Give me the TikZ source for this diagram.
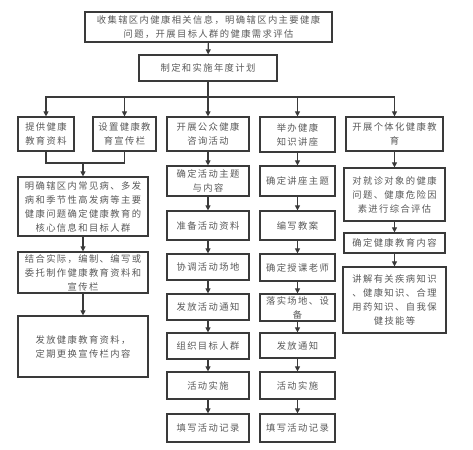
\documentclass[tikz,border=0pt]{standalone}
\usepackage{fontspec}
\setmainfont{Noto Sans CJK SC}[LetterSpace=15]
\usetikzlibrary{arrows.meta}
\definecolor{linec}{HTML}{3A3A3A}
\definecolor{textc}{HTML}{5A5A5A}
\begin{document}
\begin{tikzpicture}[x=1pt,y=-1pt,
  box/.style={draw=linec, line width=1.2pt, inner sep=0pt, align=center,
    text=textc, font={\fontsize{9.3}{14}\selectfont}},
  link/.style={draw=linec, line width=1.1pt},
  arr/.style={link, -{Triangle[width=5pt,length=5pt]}}]
\useasboundingbox (0,0) rectangle (473,449);
\fill[white] (0,0) rectangle (473,449);
% top
\node[box, minimum width=247, minimum height=30] (top) at (208.5,27) {收集辖区内健康相关信息，明确辖区内主要健康\\问题，开展目标人群的健康需求评估};
\node[box, minimum width=138, minimum height=26] (plan) at (208,68) {制定和实施年度计划};
% row 1
\node[box, minimum width=56, minimum height=34] (A) at (46,134) {提供健康\\教育资料};
\node[box, minimum width=63, minimum height=34] (B) at (124.5,134) {设置健康教\\育宣传栏};
\node[box, minimum width=82, minimum height=34] (C) at (208,134) {开展公众健康\\咨询活动};
\node[box, minimum width=75, minimum height=35] (D) at (297.5,134.5) {举办健康\\知识讲座};
\node[box, minimum width=97, minimum height=34] (E) at (394.5,134) {开展个体化健康教\\育};
% left column
\node[box, minimum width=130, minimum height=59] (F) at (83,206.5) {明确辖区内常见病、多发\\病和季节性高发病等主要\\健康问题确定健康教育的\\核心信息和目标人群};
\node[box, minimum width=130, minimum height=41] (G) at (83,272.5) {结合实际，编制、编写或\\委托制作健康教育资料和\\宣传栏};
\node[box, minimum width=130, minimum height=61] (H) at (83,346.5) {发放健康教育资料，\\定期更换宣传栏内容};
% column C
\node[box, minimum width=82, minimum height=30] (C2) at (208,181) {确定活动主题\\与内容};
\node[box, minimum width=82, minimum height=29] (C3) at (208,225.5) {准备活动资料};
\node[box, minimum width=82, minimum height=26] (C4) at (208,267) {协调活动场地};
\node[box, minimum width=82, minimum height=26] (C5) at (208,307) {发放活动通知};
\node[box, minimum width=82, minimum height=26] (C6) at (208,346) {组织目标人群};
\node[box, minimum width=82, minimum height=27] (C7) at (208,385.5) {活动实施};
\node[box, minimum width=82, minimum height=28] (C8) at (208,428) {填写活动记录};
% column D
\node[box, minimum width=75, minimum height=30] (D2) at (297.5,181) {确定讲座主题};
\node[box, minimum width=75, minimum height=29] (D3) at (297.5,225.5) {编写教案};
\node[box, minimum width=75, minimum height=27] (D4) at (297.5,267.5) {确定授课老师};
\node[box, minimum width=75, minimum height=27] (D5) at (297.5,307.5) {落实场地、设\\备};
\node[box, minimum width=75, minimum height=25] (D6) at (297.5,345.5) {发放通知};
\node[box, minimum width=75, minimum height=27] (D7) at (297.5,385.5) {活动实施};
\node[box, minimum width=75, minimum height=28] (D8) at (297.5,428) {填写活动记录};
% column E
\node[box, minimum width=101, minimum height=53] (E2) at (394.5,194.5) {对就诊对象的健康\\问题、健康危险因\\素进行综合评估};
\node[box, minimum width=101, minimum height=20] (E3) at (394.5,243) {确定健康教育内容};
\node[box, minimum width=103, minimum height=66] (E4) at (394.5,300) {讲解有关疾病知识\\、健康知识、合理\\用药知识、自我保\\健技能等};
% connectors
\draw[arr] (top) -- (plan);
\coordinate (j) at (208,97);
\draw[link] (plan) -- (j);
\draw[arr] (j) -| (A.north);
\draw[arr] (j) -| (B.north);
\draw[arr] (j) -- (C.north);
\draw[arr] (j) -| (D.north);
\draw[arr] (j) -| (E.north);
\coordinate (m) at (83,163);
\draw[link] (A.south) |- (m);
\draw[link] (B.south) |- (m);
\draw[arr] (m) -- (F.north);
\draw[arr] (F) -- (G);
\draw[arr] (G) -- (H);
\draw[arr] (C) -- (C2);
\draw[arr] (C2) -- (C3);
\draw[arr] (C3) -- (C4);
\draw[arr] (C4) -- (C5);
\draw[arr] (C5) -- (C6);
\draw[arr] (C6) -- (C7);
\draw[arr] (C7) -- (C8);
\draw[arr] (D) -- (D2);
\draw[arr] (D2) -- (D3);
\draw[arr] (D3) -- (D4);
\draw[arr] (D4) -- (D5);
\draw[arr] (D5) -- (D6);
\draw[arr] (D6) -- (D7);
\draw[arr] (D7) -- (D8);
\draw[arr] (E) -- (E2);
\draw[arr] (E2) -- (E3);
\draw[arr] (E3) -- (E4);
\end{tikzpicture}
\end{document}
